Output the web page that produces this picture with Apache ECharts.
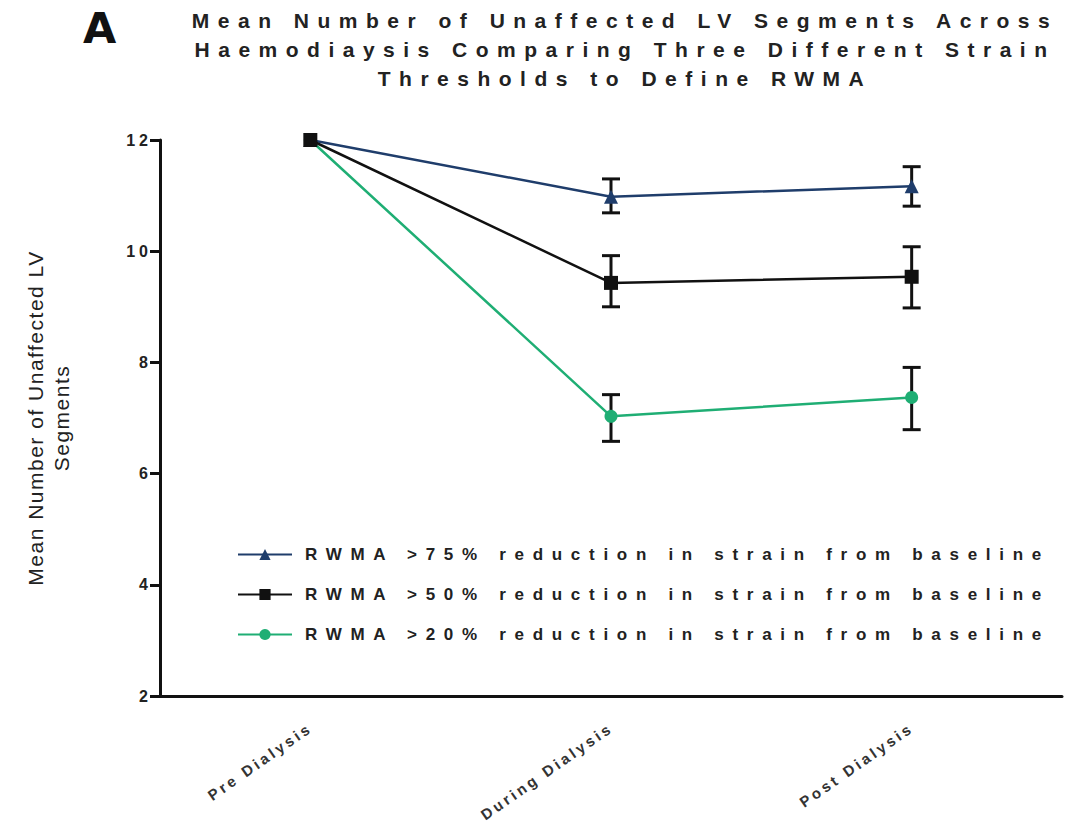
<!DOCTYPE html>
<html><head><meta charset="utf-8">
<script src="https://cdn.jsdelivr.net/npm/echarts@6/dist/echarts.min.js"></script>
<style>
html,body{margin:0;padding:0;background:#fff}
#c{width:1073px;height:840px}
text[style*="Arial"]{letter-spacing:8.5px}
text[style*="Helvetica"]{letter-spacing:8.7px}
text[style*="Arimo"]{letter-spacing:3.2px}
text[style*="Nimbus"]{letter-spacing:4px}
text[style*="FreeSans"]{letter-spacing:1.5px}
</style>
</head><body>
<div id="c"></div>
<script>
const categories = ['Pre Dialysis', 'During Dialysis', 'Post Dialysis'];
const seriesNames = [
  'RWMA >75% reduction in strain from baseline',
  'RWMA >50% reduction in strain from baseline',
  'RWMA >20% reduction in strain from baseline'
];
const mean75 = [12, 10.98, 11.17];
const low75  = [12, 10.69, 10.81];
const high75 = [12, 11.30, 11.52];
const mean50 = [12, 9.43, 9.54];
const low50  = [12, 9.00, 8.98];
const high50 = [12, 9.92, 10.08];
const mean20 = [12, 7.03, 7.37];
const low20  = [12, 6.58, 6.79];
const high20 = [12, 7.42, 7.91];
const yMin = 2, yMax = 12, yStep = 2;
const titleText = 'Mean Number of Unaffected LV Segments Across\nHaemodiaysis Comparing Three Different Strain\nThresholds to Define RWMA';
const yName = 'Mean Number of Unaffected LV\nSegments';

const colors = ['#1f3d6b', '#111111', '#1fae74'];

function errRender(params, api) {
  const x = api.value(0), lo = api.value(1), hi = api.value(2);
  if (hi - lo <= 0) return null;
  const p1 = api.coord([x, hi]), p2 = api.coord([x, lo]);
  const w = 9;
  const st = {stroke: '#111', lineWidth: 3};
  return {type: 'group', children: [
    {type: 'line', shape: {x1: p1[0], y1: p1[1], x2: p2[0], y2: p2[1]}, style: st},
    {type: 'line', shape: {x1: p1[0] - w, y1: p1[1], x2: p1[0] + w, y2: p1[1]}, style: st},
    {type: 'line', shape: {x1: p2[0] - w, y1: p2[1], x2: p2[0] + w, y2: p2[1]}, style: st}
  ]};
}
function errData(lo, hi) { return categories.map((c, i) => [i, lo[i], hi[i]]); }

const chart = echarts.init(document.getElementById('c'), null, {renderer: 'svg'});
chart.setOption({
  animation: false,
  backgroundColor: '#fff',
  title: [
    {text: 'A', left: 78, top: 1, textStyle: {fontSize: 43, fontWeight: 'bold', fontFamily: 'DejaVu Sans', color: '#111'}},
    {text: titleText, left: 620, top: 1, textAlign: 'center',
     textStyle: {fontSize: 21, fontWeight: 'bold', fontFamily: 'Liberation Sans, Arial', color: '#222', lineHeight: 29}}
  ],
  grid: {left: 160, right: 11, top: 140, bottom: 144, containLabel: false},
  legend: {
    data: seriesNames, orient: 'vertical', left: 232, top: 541,
    itemWidth: 54, itemHeight: 14, itemGap: 23,
    textStyle: {fontSize: 17, fontWeight: 'bold', fontFamily: 'Liberation Sans, Helvetica', color: '#222', padding: [0, 0, 0, 8]}
  },
  xAxis: {
    type: 'category', data: categories, boundaryGap: true,
    axisLine: {lineStyle: {color: '#111', width: 3}},
    axisTick: {alignWithLabel: true, length: 10, lineStyle: {color: '#111', width: 3}},
    axisLabel: {rotate: 35, margin: 30, fontSize: 15, fontWeight: 'bold', fontFamily: 'Liberation Sans, Arimo', color: '#333', interval: 0}
  },
  yAxis: {
    type: 'value', min: yMin, max: yMax, interval: yStep,
    name: yName, nameLocation: 'middle', nameGap: 86, nameRotate: 90,
    nameTextStyle: {fontSize: 21, fontFamily: 'Liberation Sans, FreeSans', color: '#222', lineHeight: 26},
    splitLine: {show: false},
    axisLine: {show: true, lineStyle: {color: '#111', width: 3}},
    axisTick: {show: true, length: 10, lineStyle: {color: '#111', width: 3}},
    axisLabel: {fontSize: 16, fontWeight: 'bold', fontFamily: 'Liberation Sans, Nimbus Sans', color: '#222', margin: 8}
  },
  series: [
    {type: 'custom', renderItem: errRender, data: errData(low75, high75), encode: {x: 0, y: [1, 2]}, z: 1, silent: true},
    {type: 'custom', renderItem: errRender, data: errData(low50, high50), encode: {x: 0, y: [1, 2]}, z: 1, silent: true},
    {type: 'custom', renderItem: errRender, data: errData(low20, high20), encode: {x: 0, y: [1, 2]}, z: 1, silent: true},
    {name: seriesNames[2], type: 'line', data: mean20, symbol: 'circle', symbolSize: 13,
     color: colors[2], lineStyle: {width: 2.5, color: colors[2]}, itemStyle: {color: colors[2]}, z: 3},
    {name: seriesNames[0], type: 'line', data: mean75, symbol: 'triangle', symbolSize: 14,
     color: colors[0], lineStyle: {width: 2.5, color: colors[0]}, itemStyle: {color: colors[0]}, z: 4},
    {name: seriesNames[1], type: 'line', data: mean50, symbol: 'rect', symbolSize: 14,
     color: colors[1], lineStyle: {width: 2.5, color: colors[1]}, itemStyle: {color: colors[1]}, z: 5}
  ]
});
</script>
</body></html>
